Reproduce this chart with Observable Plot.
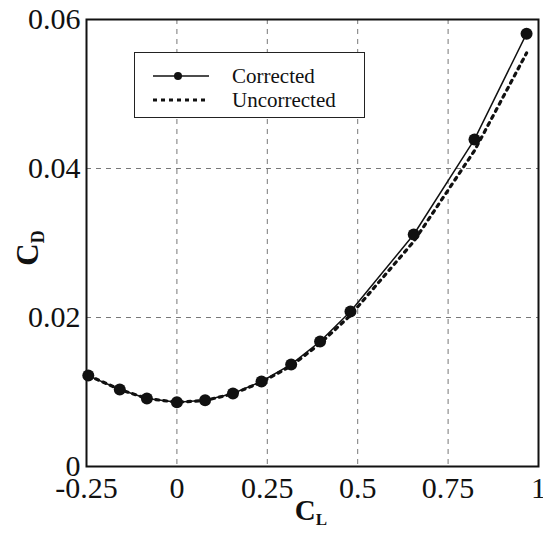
<!DOCTYPE html>
<html>
<head>
<meta charset="utf-8">
<script src="https://cdn.jsdelivr.net/npm/d3@7"></script>
<script src="https://cdn.jsdelivr.net/npm/@observablehq/plot@0.6"></script>
<style>
  html, body { margin: 0; padding: 0; background: #fff; }
  #wrap { position: relative; width: 543px; height: 535px; }
  #legend { position: absolute; left: 134px; top: 52px; width: 231px; height: 66px;
            border: 1.3px solid #222; box-sizing: border-box; background: #fff;
            font-family: "Liberation Serif", "DejaVu Serif", serif; font-size: 20px; color: #111; }
</style>
</head>
<body>
<div id="wrap"><div id="legend"></div></div>
<script>
const seriesNames = ["Corrected", "Uncorrected"];
const cl = [-0.245, -0.158, -0.083, 0.0, 0.078, 0.155, 0.234, 0.316, 0.396, 0.48, 0.655, 0.823, 0.967];
const cdCorrected = [0.0122, 0.01034, 0.00913, 0.00862, 0.00888, 0.0098, 0.01141, 0.0137, 0.01678, 0.0208, 0.03114, 0.0439, 0.0581];
const cdUncorrected = [0.0122, 0.01034, 0.00913, 0.00862, 0.00886, 0.00975, 0.01132, 0.0135, 0.0165, 0.0203, 0.0302, 0.0424, 0.0555];
const xTicks = [-0.25, 0, 0.25, 0.5, 0.75, 1];
const yTicks = [0, 0.02, 0.04, 0.06];

const corrected = cl.map((x, i) => ({x, y: cdCorrected[i]}));
const uncorrected = cl.map((x, i) => ({x, y: cdUncorrected[i]}));

const font = '"Liberation Serif", "DejaVu Serif", serif';
const fmt = d => d === 0 ? "0" : String(d);

const chart = Plot.plot({
  width: 543,
  height: 535,
  marginLeft: 86,
  marginRight: 5,
  marginTop: 19,
  marginBottom: 69,
  style: {fontFamily: font, fontSize: "30px", color: "#111", background: "#fff"},
  x: {domain: [-0.25, 1], ticks: xTicks, tickFormat: fmt, label: null, tickSize: 0, tickPadding: 10},
  y: {domain: [0, 0.06], ticks: yTicks, tickFormat: fmt, label: null, tickSize: 0, tickPadding: 6},
  marks: [
    Plot.gridX(xTicks, {stroke: "#555", strokeOpacity: 1, strokeWidth: 0.8, strokeDasharray: "5,5"}),
    Plot.gridY(yTicks, {stroke: "#555", strokeOpacity: 1, strokeWidth: 0.8, strokeDasharray: "5,5"}),
    Plot.line(uncorrected, {x: "x", y: "y", stroke: "#111", strokeWidth: 3.2, strokeDasharray: "3,5", curve: "linear"}),
    Plot.line(corrected, {x: "x", y: "y", stroke: "#111", strokeWidth: 1.5}),
    Plot.dot(corrected, {x: "x", y: "y", r: 6, fill: "#111", stroke: "none"}),
    Plot.frame({stroke: "#111", strokeWidth: 2})
  ]
});

// axis titles with subscripts
const svg = d3.select(chart);
const ty = svg.append("text")
  .attr("transform", "translate(38,248) rotate(-90)")
  .attr("text-anchor", "middle")
  .attr("font-family", font).attr("font-weight", "bold").attr("font-size", 31).attr("fill", "#111");
ty.append("tspan").text("C");
ty.append("tspan").attr("font-size", 18).attr("dy", 6).text("D");

const tx = svg.append("text")
  .attr("transform", "translate(311,520)")
  .attr("text-anchor", "middle")
  .attr("font-family", font).attr("font-weight", "bold").attr("font-size", 29).attr("fill", "#111");
tx.append("tspan").text("C");
tx.append("tspan").attr("font-size", 17).attr("dy", 5).text("L");

document.getElementById("wrap").prepend(chart);

// legend
const lg = d3.select("#legend").append("svg").attr("width", 229).attr("height", 64);
const rows = [
  {name: seriesNames[0], y: 23, dash: null, w: 1.5, dot: true},
  {name: seriesNames[1], y: 47, dash: "4,4", w: 3.2, dot: false}
];
rows.forEach(r => {
  lg.append("line").attr("x1", 18).attr("x2", 74).attr("y1", r.y).attr("y2", r.y)
    .attr("stroke", "#111").attr("stroke-width", r.w).attr("stroke-dasharray", r.dash);
  if (r.dot) lg.append("circle").attr("cx", 43).attr("cy", r.y).attr("r", 4).attr("fill", "#111");
  lg.append("text").attr("x", 97).attr("y", r.y + 7).attr("font-family", font).attr("font-size", 21)
    .attr("fill", "#111").text(r.name);
});
</script>
</body>
</html>
